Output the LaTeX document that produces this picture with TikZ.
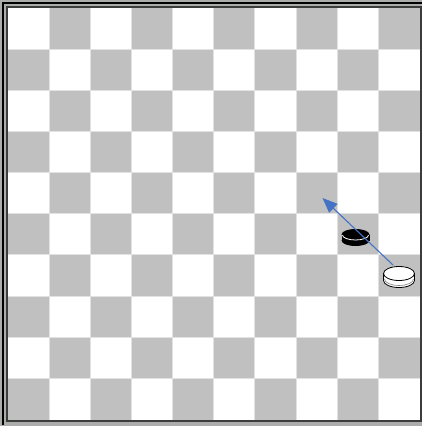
\documentclass[tikz,border=0pt]{standalone}
\usetikzlibrary{arrows.meta}
\definecolor{cellgray}{HTML}{C0C0C0}
\definecolor{gridline}{HTML}{E2E2E2}
\definecolor{framegray}{HTML}{ABADAB}
\definecolor{framedark}{HTML}{3C3C3C}
\definecolor{arrowblue}{HTML}{4472C4}
\tikzset{
  cellfill/.style={fill=cellgray},
  gridstroke/.style={draw=gridline, line width=0.9pt},
  movearrow/.style={draw=arrowblue, line width=1.1pt, -{Triangle[length=15pt,width=12pt]}},
}
\begin{document}
\begin{tikzpicture}[x=1pt,y=-1pt]
\useasboundingbox (0,0) rectangle (422,426);
\fill[framegray] (0,0) rectangle (422,426);
\draw[black,line width=1.6pt] (3,425) -- (3,3) -- (422,3);
\draw[framedark,line width=1.6pt] (7,421.2) -- (7,7) -- (420.8,7) -- (420.8,421.2) -- cycle;
\fill[white] (8,8) rectangle (419.5,419.5);
\foreach \r in {0,...,9} {
  \foreach \c in {0,...,9} {
    \pgfmathtruncatemacro{\odd}{mod(\r+\c,2)}
    \ifnum\odd=1
      \fill[cellfill] ({8+41.15*\c},{8+41.15*\r}) rectangle ++(41.15,41.15);
    \fi
  }
}
\foreach \i in {1,...,9} {
  \draw[gridstroke] ({8+41.15*\i},8) -- ++(0,411.5);
  \draw[gridstroke] (8,{8+41.15*\i}) -- ++(411.5,0);
}
% black piece (yshift is on the page: positive = up)
\coordinate (blackpiece) at (355.5,237.5);
\fill[black] ([yshift=-3pt]blackpiece) ellipse [x radius=14, y radius=5.5];
\fill[black] ([xshift=-14pt,yshift=-3pt]blackpiece) rectangle ([xshift=14pt,yshift=3pt]blackpiece);
\fill[black] ([yshift=3pt]blackpiece) ellipse [x radius=14, y radius=5.5];
\draw[white,line width=0.8pt] ([xshift=-13pt,yshift=2.5pt]blackpiece) arc [start angle=180, end angle=0, x radius=13, y radius=5];
% white piece
\coordinate (whitepiece) at (399,277);
\filldraw[fill=white,draw=black,line width=0.8pt] ([yshift=-3.5pt]whitepiece) ellipse [x radius=15.5, y radius=7];
\fill[white] ([xshift=-15.5pt,yshift=-3.5pt]whitepiece) rectangle ([xshift=15.5pt,yshift=3.5pt]whitepiece);
\draw[black,line width=0.8pt] ([xshift=-15.5pt,yshift=3.5pt]whitepiece) -- ([xshift=-15.5pt,yshift=-3.5pt]whitepiece);
\draw[black,line width=0.8pt] ([xshift=15.5pt,yshift=3.5pt]whitepiece) -- ([xshift=15.5pt,yshift=-3.5pt]whitepiece);
\draw[gray,line width=0.6pt] ([xshift=-14.5pt,yshift=-2pt]whitepiece) arc [start angle=180, end angle=0, x radius=14.5, y radius=6.5];
\filldraw[fill=white,draw=black,line width=0.8pt] ([yshift=3.5pt]whitepiece) ellipse [x radius=15.5, y radius=7];
% move arrow
\coordinate (src) at (393,265);
\coordinate (dst) at (322.5,198);
\draw[movearrow] (src) -- (dst);
\end{tikzpicture}
\end{document}
